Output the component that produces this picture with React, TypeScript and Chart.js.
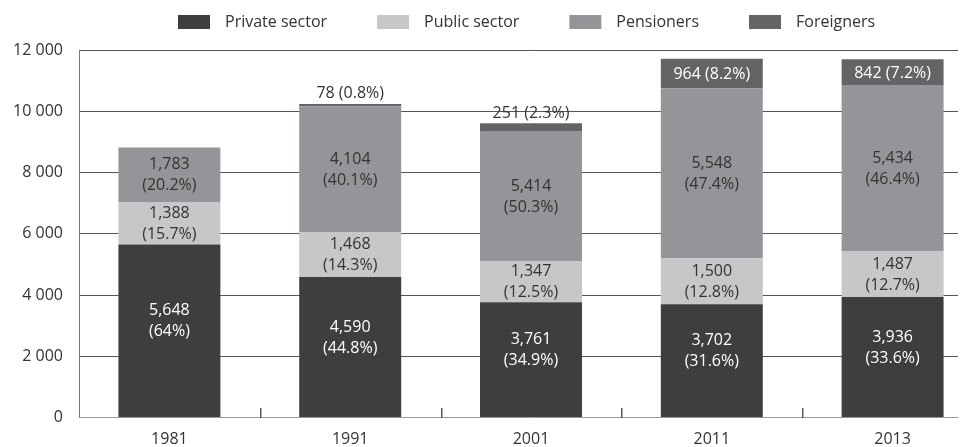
import React, { useEffect, useRef } from "react";
import { Chart, registerables } from "chart.js";

Chart.register(...registerables);

// ---- Data ----
const years = ["1981", "1991", "2001", "2011", "2013"];
const seriesNames = ["Private sector", "Public sector", "Pensioners", "Foreigners"];
const seriesColors = ["#3e3e3f", "#c6c7c9", "#939598", "#636466"];

// values printed in the labels
const privateSector = [5648, 4590, 3761, 3702, 3936];
const publicSector = [1388, 1468, 1347, 1500, 1487];
const pensioners = [1783, 4104, 5414, 5548, 5434];
const foreigners = [0, 78, 251, 964, 842];

// bar heights as drawn in the picture (2001 pensioners bar is drawn shorter than its label)
const pensionersDrawn = [1783, 4104, 4250, 5548, 5434];

const privatePct = ["64%", "44.8%", "34.9%", "31.6%", "33.6%"];
const publicPct = ["15.7%", "14.3%", "12.5%", "12.8%", "12.7%"];
const pensionersPct = ["20.2%", "40.1%", "50.3%", "47.4%", "46.4%"];
const foreignersPct = ["", "0.8%", "2.3%", "8.2%", "7.2%"];

const yTicks = [0, 2000, 4000, 6000, 8000, 10000, 12000];

const FONT = "'Open Sans', 'Noto Sans', sans-serif";
const TEXT = "#333333";

const fmt = (v: number) => v.toLocaleString("en-US");

const labelValues = [privateSector, publicSector, pensioners, foreigners];
const labelPcts = [privatePct, publicPct, pensionersPct, foreignersPct];

const legendPlugin = {
  id: "customLegend",
  afterDraw(chart: any) {
    const ctx = chart.ctx;
    ctx.save();
    ctx.font = `16px ${FONT}`;
    ctx.textBaseline = "middle";
    ctx.textAlign = "left";
    let x = 170;
    chart.data.datasets.forEach((ds: any) => {
      ctx.fillStyle = ds.backgroundColor;
      ctx.fillRect(x, 7, 32, 14);
      ctx.fillStyle = TEXT;
      ctx.fillText(ds.label, x + 47, 14);
      x += 47 + ctx.measureText(ds.label).width + 50;
    });
    // upward tick marks on the category axis, at the boundaries between categories
    const xs = chart.scales.x;
    const bottom = Math.round(chart.chartArea.bottom);
    ctx.fillStyle = "#5a5a5a";
    for (let i = 0; i < years.length - 1; i++) {
      const bx = Math.round((xs.getPixelForValue(i) + xs.getPixelForValue(i + 1)) / 2);
      ctx.fillRect(bx, bottom - 10, 1.5, 10);
    }
    ctx.restore();
  },
};

const dataLabelPlugin = {
  id: "dataLabels",
  afterDatasetsDraw(chart: any) {
    const ctx = chart.ctx;
    ctx.save();
    ctx.font = `16px ${FONT}`;
    ctx.textAlign = "center";
    ctx.textBaseline = "middle";
    chart.data.datasets.forEach((ds: any, di: number) => {
      const meta = chart.getDatasetMeta(di);
      meta.data.forEach((bar: any, i: number) => {
        const v = labelValues[di][i];
        if (!v) return;
        const pct = labelPcts[di][i];
        const top = Math.min(bar.y, bar.base);
        const bot = Math.max(bar.y, bar.base);
        const h = bot - top;
        const cx = bar.x;
        const dark = di === 0 || di === 3;
        if (di === 3) {
          const text = `${fmt(v)} (${pct})`;
          if (h > 15) {
            ctx.fillStyle = "#ffffff";
            ctx.fillText(text, cx, (top + bot) / 2 + 1);
          } else {
            ctx.fillStyle = TEXT;
            ctx.fillText(text, cx, top - 10);
          }
          return;
        }
        ctx.fillStyle = dark ? "#ffffff" : TEXT;
        let cy = (top + bot) / 2;
        if (di === 0) cy -= 10;
        ctx.fillText(fmt(v), cx, cy - 10);
        ctx.fillText(`(${pct})`, cx, cy + 11);
      });
    });
    ctx.restore();
  },
};

export default function App() {
  const canvasRef = useRef<HTMLCanvasElement | null>(null);

  useEffect(() => {
    if (!canvasRef.current) return;
    const drawn = [privateSector, publicSector, pensionersDrawn, foreigners];
    const chart = new Chart(canvasRef.current, {
      type: "bar",
      data: {
        labels: years,
        datasets: seriesNames.map((name, i) => ({
          label: name,
          data: drawn[i],
          backgroundColor: seriesColors[i],
          borderWidth: 0,
          categoryPercentage: 1,
          barPercentage: 0.564,
        })),
      },
      options: {
        responsive: false,
        animation: false,
        layout: { padding: { top: 42, right: 25, left: 0, bottom: 0 } },
        plugins: {
          legend: { display: false },
          tooltip: { enabled: false },
        },
        scales: {
          x: {
            stacked: true,
            grid: { display: false, drawTicks: false },
            border: { display: true, color: "#999999", width: 1 },
            ticks: {
              color: TEXT,
              font: { family: FONT, size: 16 },
              padding: 12,
              maxRotation: 0,
            },
            afterFit(scale: any) {
              scale.height = 29.5;
            },
          },
          y: {
            stacked: true,
            min: 0,
            max: 12000,
            afterBuildTicks(scale: any) {
              scale.ticks = yTicks.map((v) => ({ value: v }));
            },
            grid: {
              drawTicks: false,
              color: (c: any) => (c.tick && c.tick.value === 0 ? "rgba(0,0,0,0)" : "#555555"),
              lineWidth: 1,
            },
            border: { display: true, color: "#777777", width: 1 },
            ticks: {
              color: TEXT,
              font: { family: FONT, size: 16 },
              padding: 16,
              callback: (v: any) => Number(v).toLocaleString("en-US").replace(/,/g, " "),
            },
            afterFit(scale: any) {
              scale.width = 71;
            },
          },
        },
      },
      plugins: [legendPlugin, dataLabelPlugin],
    });
    return () => chart.destroy();
  }, []);

  return (
    <div style={{ width: 958, height: 439, overflow: "hidden", position: "relative" }}>
      <canvas
        ref={canvasRef}
        width={1000}
        height={439}
        style={{ width: 1000, height: 439, display: "block" }}
      />
    </div>
  );
}
